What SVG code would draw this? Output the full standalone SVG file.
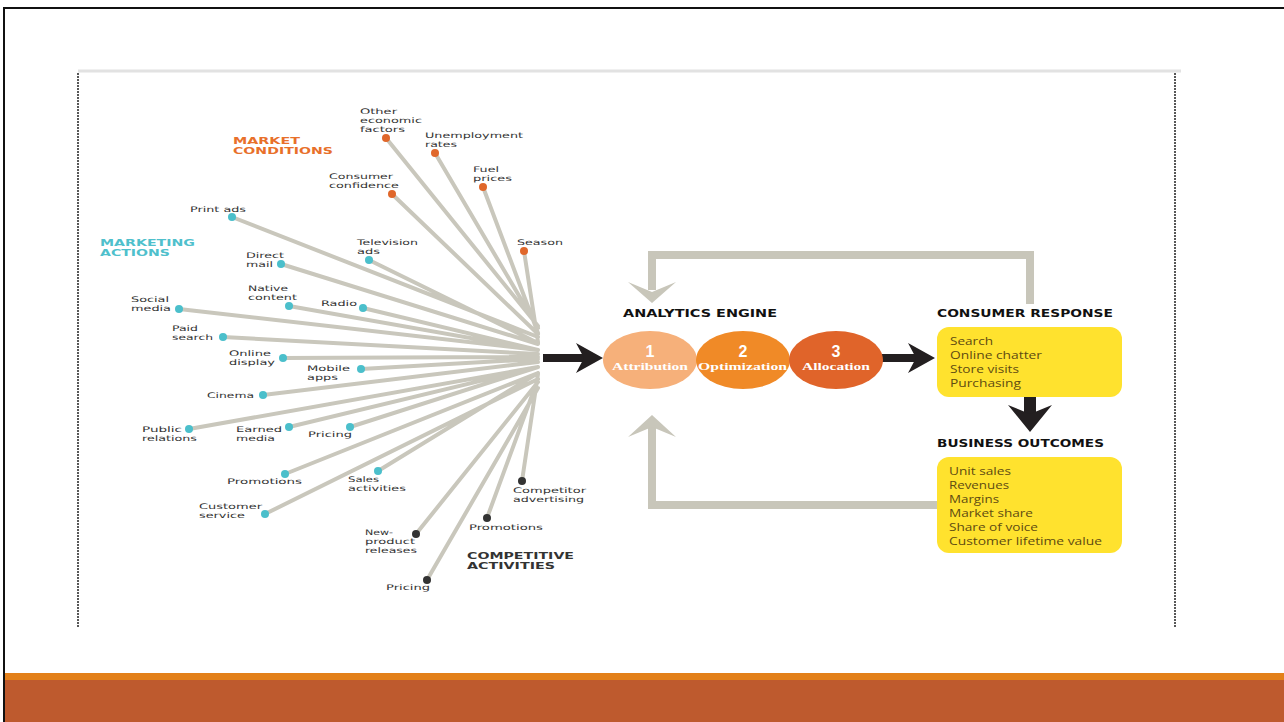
<svg xmlns="http://www.w3.org/2000/svg" width="1284" height="722" viewBox="0 0 1284 722">
<style>
.lbl{font-family:"DejaVu Sans","Liberation Sans",sans-serif;font-size:7.7px;fill:#333333}
.hd{font-family:"DejaVu Sans","Liberation Sans",sans-serif;font-weight:bold;font-size:8.5px}
.hd2{font-family:"DejaVu Sans","Liberation Sans",sans-serif;font-weight:bold;font-size:10px}
.mc{fill:#E8702A}.ma{fill:#4FC0CC}.ca{fill:#333333}
.blk{fill:#111111}
.fan{stroke:#C9C7BC;stroke-width:4;fill:none;stroke-linecap:round}
.dm{fill:#E0672A}.dt{fill:#4BBFCB}.dk{fill:#333333}
.loop{stroke:#C8C6BA;stroke-width:8;fill:none}
.gh{fill:#C8C6BA}.bh{fill:#231F20}
.num{font-family:"Liberation Sans",Arial,sans-serif;font-weight:bold;font-size:16px;fill:#ffffff}
.cl{font-family:"Liberation Serif","DejaVu Serif",serif;font-weight:bold;font-size:9.5px;fill:#ffffff}
.box{fill:#FFE22E}
.bt{font-family:"Open Sans","Liberation Sans",sans-serif;font-size:10.5px;fill:#5E4B12}
</style>
<rect width="1284" height="722" fill="#ffffff"/>
<!-- slide frame -->
<line x1="3" y1="8" x2="1284" y2="8" stroke="#111" stroke-width="2"/>
<line x1="4" y1="8" x2="4" y2="722" stroke="#111" stroke-width="2"/>
<rect x="5" y="673" width="1279" height="7" fill="#E3801A"/>
<rect x="5" y="680" width="1279" height="42" fill="#BE5A2E"/>
<!-- picture frame -->
<line x1="78" y1="71" x2="1181" y2="71" stroke="#E2E2E2" stroke-width="3"/>
<line x1="78" y1="73" x2="78" y2="628" stroke="#222" stroke-width="1.5" stroke-dasharray="2 1"/>
<line x1="1175" y1="73" x2="1175" y2="628" stroke="#222" stroke-width="1.5" stroke-dasharray="2 1"/>

<g id="connectors">
<path class="fan" d="M386 138L538 326M435 153L538 328M392 194L538 334M483 187L538 333M524 251L538 342M232 217L538 337M369 260L538 343M281 264L538 344M289 306L538 350M363 308L538 350M179 309L538 350M223 337L538 354M283 358L538 357M361 369L538 359M263 395L538 362M189 429L538 367M289 427L538 367M350 427L538 367M285 474L538 373M378 471L538 373M265 514L538 379M522 481L538 374M487 518L538 379M416 534L538 382M427 580L538 388"/>
<!-- black arrow fan -> engine -->
<line x1="543" y1="358" x2="588" y2="358" stroke="#231F20" stroke-width="8"/>
<polygon class="bh" points="576,343 603,358 576,373 584,358"/>
<!-- engine -> consumer -->
<line x1="882" y1="358" x2="920" y2="358" stroke="#231F20" stroke-width="8"/>
<polygon class="bh" points="908,343 935,358 908,373 916,358"/>
<!-- consumer -> business -->
<line x1="1030" y1="397" x2="1030" y2="418" stroke="#231F20" stroke-width="12"/>
<polygon class="bh" points="1008,405 1030,432 1052,405 1030,414"/>
<!-- top feedback loop -->
<polyline class="loop" points="1030,304 1030,255 652,255 652,290"/>
<polygon class="gh" points="628,282 652,292 676,282 652,303"/>
<!-- bottom feedback loop -->
<polyline class="loop" points="937,505 652,505 652,425"/>
<polygon class="gh" points="628,437 652,427 676,437 652,415"/>
</g>

<g id="market-conditions-header">
<text class="hd mc" x="233" y="144" textLength="67" lengthAdjust="spacingAndGlyphs">MARKET</text>
<text class="hd mc" x="233" y="154" textLength="100" lengthAdjust="spacingAndGlyphs">CONDITIONS</text>
</g>
<g id="marketing-actions-header">
<text class="hd ma" x="100" y="245.5" textLength="95" lengthAdjust="spacingAndGlyphs">MARKETING</text>
<text class="hd ma" x="100" y="255.5" textLength="70" lengthAdjust="spacingAndGlyphs">ACTIONS</text>
</g>
<g id="competitive-activities-header">
<text class="hd ca" x="467" y="559" textLength="107" lengthAdjust="spacingAndGlyphs">COMPETITIVE</text>
<text class="hd ca" x="467" y="569" textLength="88" lengthAdjust="spacingAndGlyphs">ACTIVITIES</text>
</g>

<!-- market conditions -->
<g id="other-economic-factors"><circle class="dm" cx="386" cy="138" r="4"/>
<text class="lbl" x="360" y="114" textLength="37" lengthAdjust="spacingAndGlyphs">Other</text>
<text class="lbl" x="360" y="123" textLength="62" lengthAdjust="spacingAndGlyphs">economic</text>
<text class="lbl" x="360" y="132" textLength="45" lengthAdjust="spacingAndGlyphs">factors</text></g>
<g id="unemployment-rates"><circle class="dm" cx="435" cy="153" r="4"/>
<text class="lbl" x="425" y="138" textLength="98" lengthAdjust="spacingAndGlyphs">Unemployment</text>
<text class="lbl" x="425" y="147" textLength="32" lengthAdjust="spacingAndGlyphs">rates</text></g>
<g id="consumer-confidence"><circle class="dm" cx="392" cy="194" r="4"/>
<text class="lbl" x="329" y="179" textLength="64" lengthAdjust="spacingAndGlyphs">Consumer</text>
<text class="lbl" x="329" y="188" textLength="70" lengthAdjust="spacingAndGlyphs">confidence</text></g>
<g id="fuel-prices"><circle class="dm" cx="483" cy="187" r="4"/>
<text class="lbl" x="473" y="172" textLength="26" lengthAdjust="spacingAndGlyphs">Fuel</text>
<text class="lbl" x="473" y="181" textLength="39" lengthAdjust="spacingAndGlyphs">prices</text></g>
<g id="season"><circle class="dm" cx="524" cy="251" r="4"/>
<text class="lbl" x="517" y="245" textLength="46" lengthAdjust="spacingAndGlyphs">Season</text></g>

<!-- marketing actions -->
<g id="print-ads"><circle class="dt" cx="232" cy="217" r="4"/>
<text class="lbl" x="190" y="212" textLength="56" lengthAdjust="spacingAndGlyphs">Print ads</text></g>
<g id="television-ads"><circle class="dt" cx="369" cy="260" r="4"/>
<text class="lbl" x="357" y="245" textLength="61" lengthAdjust="spacingAndGlyphs">Television</text>
<text class="lbl" x="357" y="254" textLength="23" lengthAdjust="spacingAndGlyphs">ads</text></g>
<g id="direct-mail"><circle class="dt" cx="281" cy="264" r="4"/>
<text class="lbl" x="246" y="258" textLength="38" lengthAdjust="spacingAndGlyphs">Direct</text>
<text class="lbl" x="246" y="267" textLength="27" lengthAdjust="spacingAndGlyphs">mail</text></g>
<g id="native-content"><circle class="dt" cx="289" cy="306" r="4"/>
<text class="lbl" x="248" y="291" textLength="40" lengthAdjust="spacingAndGlyphs">Native</text>
<text class="lbl" x="248" y="300" textLength="49" lengthAdjust="spacingAndGlyphs">content</text></g>
<g id="radio"><circle class="dt" cx="363" cy="308" r="4"/>
<text class="lbl" x="321" y="306" textLength="36" lengthAdjust="spacingAndGlyphs">Radio</text></g>
<g id="social-media"><circle class="dt" cx="179" cy="309" r="4"/>
<text class="lbl" x="131" y="302" textLength="38" lengthAdjust="spacingAndGlyphs">Social</text>
<text class="lbl" x="131" y="311" textLength="40" lengthAdjust="spacingAndGlyphs">media</text></g>
<g id="paid-search"><circle class="dt" cx="223" cy="337" r="4"/>
<text class="lbl" x="172" y="331" textLength="26" lengthAdjust="spacingAndGlyphs">Paid</text>
<text class="lbl" x="172" y="340" textLength="41" lengthAdjust="spacingAndGlyphs">search</text></g>
<g id="online-display"><circle class="dt" cx="283" cy="358" r="4"/>
<text class="lbl" x="229" y="356" textLength="42" lengthAdjust="spacingAndGlyphs">Online</text>
<text class="lbl" x="229" y="365" textLength="46" lengthAdjust="spacingAndGlyphs">display</text></g>
<g id="mobile-apps"><circle class="dt" cx="361" cy="369" r="4"/>
<text class="lbl" x="307" y="371" textLength="43" lengthAdjust="spacingAndGlyphs">Mobile</text>
<text class="lbl" x="307" y="380" textLength="31" lengthAdjust="spacingAndGlyphs">apps</text></g>
<g id="cinema"><circle class="dt" cx="263" cy="395" r="4"/>
<text class="lbl" x="207" y="398" textLength="47" lengthAdjust="spacingAndGlyphs">Cinema</text></g>
<g id="public-relations"><circle class="dt" cx="189" cy="429" r="4"/>
<text class="lbl" x="142" y="432" textLength="40" lengthAdjust="spacingAndGlyphs">Public</text>
<text class="lbl" x="142" y="441" textLength="55" lengthAdjust="spacingAndGlyphs">relations</text></g>
<g id="earned-media"><circle class="dt" cx="289" cy="427" r="4"/>
<text class="lbl" x="236" y="432" textLength="46" lengthAdjust="spacingAndGlyphs">Earned</text>
<text class="lbl" x="236" y="441" textLength="39" lengthAdjust="spacingAndGlyphs">media</text></g>
<g id="pricing"><circle class="dt" cx="350" cy="427" r="4"/>
<text class="lbl" x="308" y="437" textLength="44" lengthAdjust="spacingAndGlyphs">Pricing</text></g>
<g id="promotions"><circle class="dt" cx="285" cy="474" r="4"/>
<text class="lbl" x="227" y="484" textLength="75" lengthAdjust="spacingAndGlyphs">Promotions</text></g>
<g id="sales-activities"><circle class="dt" cx="378" cy="471" r="4"/>
<text class="lbl" x="348" y="482" textLength="31" lengthAdjust="spacingAndGlyphs">Sales</text>
<text class="lbl" x="348" y="491" textLength="58" lengthAdjust="spacingAndGlyphs">activities</text></g>
<g id="customer-service"><circle class="dt" cx="265" cy="514" r="4"/>
<text class="lbl" x="199" y="509" textLength="63" lengthAdjust="spacingAndGlyphs">Customer</text>
<text class="lbl" x="199" y="518" textLength="46" lengthAdjust="spacingAndGlyphs">service</text></g>

<!-- competitive activities -->
<g id="competitor-advertising"><circle class="dk" cx="522" cy="481" r="4"/>
<text class="lbl" x="513" y="493" textLength="73" lengthAdjust="spacingAndGlyphs">Competitor</text>
<text class="lbl" x="513" y="502" textLength="71" lengthAdjust="spacingAndGlyphs">advertising</text></g>
<g id="competitive-promotions"><circle class="dk" cx="487" cy="518" r="4"/>
<text class="lbl" x="469" y="530" textLength="74" lengthAdjust="spacingAndGlyphs">Promotions</text></g>
<g id="new-product-releases"><circle class="dk" cx="416" cy="534" r="4"/>
<text class="lbl" x="365" y="535" textLength="28" lengthAdjust="spacingAndGlyphs">New-</text>
<text class="lbl" x="365" y="544" textLength="50" lengthAdjust="spacingAndGlyphs">product</text>
<text class="lbl" x="365" y="553" textLength="52" lengthAdjust="spacingAndGlyphs">releases</text></g>
<g id="competitive-pricing"><circle class="dk" cx="427" cy="580" r="4"/>
<text class="lbl" x="386" y="590" textLength="44" lengthAdjust="spacingAndGlyphs">Pricing</text></g>

<!-- analytics engine -->
<g id="analytics-engine">
<text class="hd2 blk" x="623" y="317" textLength="154" lengthAdjust="spacingAndGlyphs">ANALYTICS ENGINE</text>
</g>
<g id="attribution">
<ellipse cx="650" cy="360" rx="47" ry="29" fill="#F6B07A"/>
<text class="num" x="650" y="357" text-anchor="middle">1</text>
<text class="cl" x="612" y="370" textLength="76" lengthAdjust="spacingAndGlyphs">Attribution</text>
</g>
<g id="optimization">
<ellipse cx="743" cy="360" rx="47" ry="29" fill="#F08A27"/>
<text class="num" x="743" y="357" text-anchor="middle">2</text>
<text class="cl" x="698" y="370" textLength="89" lengthAdjust="spacingAndGlyphs">Optimization</text>
</g>
<g id="allocation">
<ellipse cx="836" cy="360" rx="47" ry="29" fill="#E0642A"/>
<text class="num" x="836" y="357" text-anchor="middle">3</text>
<text class="cl" x="802" y="370" textLength="68" lengthAdjust="spacingAndGlyphs">Allocation</text>
</g>

<g id="consumer-response">
<text class="hd2 blk" x="937" y="317" textLength="176" lengthAdjust="spacingAndGlyphs">CONSUMER RESPONSE</text>
<rect class="box" x="937" y="327" width="185" height="70" rx="12"/>
<text class="bt" x="950" y="345" textLength="43" lengthAdjust="spacingAndGlyphs">Search</text>
<text class="bt" x="950" y="359" textLength="92" lengthAdjust="spacingAndGlyphs">Online chatter</text>
<text class="bt" x="950" y="373" textLength="69" lengthAdjust="spacingAndGlyphs">Store visits</text>
<text class="bt" x="950" y="387" textLength="71" lengthAdjust="spacingAndGlyphs">Purchasing</text>
</g>
<g id="business-outcomes">
<text class="hd2 blk" x="937" y="447" textLength="167" lengthAdjust="spacingAndGlyphs">BUSINESS OUTCOMES</text>
<rect class="box" x="937" y="457" width="185" height="96" rx="12"/>
<text class="bt" x="949" y="475" textLength="62" lengthAdjust="spacingAndGlyphs">Unit sales</text>
<text class="bt" x="949" y="489" textLength="60" lengthAdjust="spacingAndGlyphs">Revenues</text>
<text class="bt" x="949" y="503" textLength="50" lengthAdjust="spacingAndGlyphs">Margins</text>
<text class="bt" x="949" y="517" textLength="84" lengthAdjust="spacingAndGlyphs">Market share</text>
<text class="bt" x="949" y="531" textLength="89" lengthAdjust="spacingAndGlyphs">Share of voice</text>
<text class="bt" x="949" y="545" textLength="153" lengthAdjust="spacingAndGlyphs">Customer lifetime value</text>
</g>
</svg>
